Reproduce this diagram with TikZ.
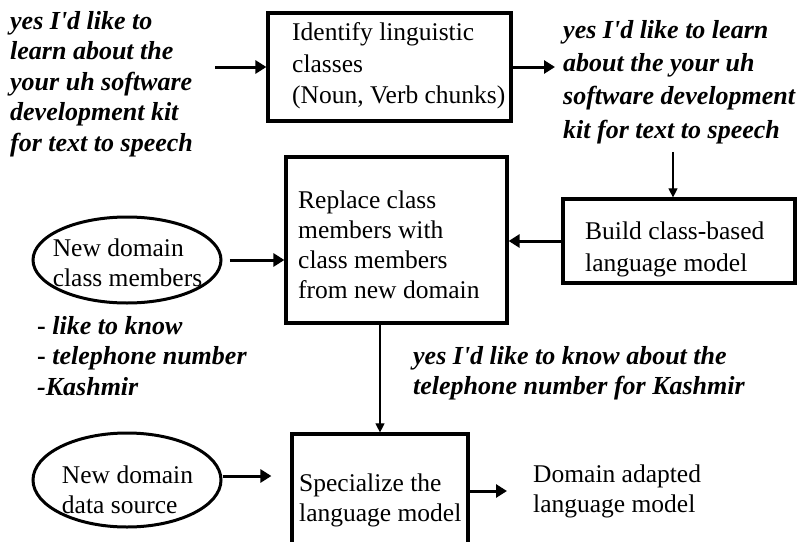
\documentclass[tikz,border=0pt]{standalone}
\usepackage{fontspec}
\setmainfont{Liberation Serif}[Ligatures=TeXOff]
\usetikzlibrary{arrows.meta,shapes.geometric,calc}

\tikzset{
  box/.style={draw, line width=3.2pt, rectangle, inner sep=0pt},
  oval/.style={draw, line width=3pt, ellipse, inner sep=0pt},
  plain/.style={inner sep=0pt, align=left, anchor=west,
    font=\fontsize{25.5}{30}\selectfont},
  quote/.style={plain, font=\fontsize{26}{30.5}\selectfont\bfseries\itshape},
  bigarrow/.style={line width=3pt, -{Triangle[length=11pt,width=13pt]}},
  thinarrow/.style={line width=1.1pt, -{Triangle[length=9pt,width=9pt]}},
}

\begin{document}
\begin{tikzpicture}[x=1pt, y=-1pt]
\useasboundingbox (0,0) rectangle (803,541);
\clip (0,0) rectangle (803,541);

% boxes and ovals
\node[box, minimum width=243pt, minimum height=108pt] (ident) at (389.5,67) {};
\node[box, minimum width=221pt, minimum height=166pt] (repl) at (396.5,240) {};
\node[box, minimum width=232pt, minimum height=84pt] (build) at (679,241) {};
\node[box, minimum width=176pt, minimum height=126pt] (spec) at (380,497) {};
\node[oval, minimum width=188pt, minimum height=86pt] (dom) at (127,260) {};
\node[oval, minimum width=188pt, minimum height=94pt] (src) at (127,480) {};

% texts inside the shapes
\node[plain, font=\fontsize{25.5}{31.5}\selectfont] (identtxt) at (292,66)
  {Identify linguistic\\classes\\(Noun, Verb chunks)};
\node[plain] (repltxt) at (298,245)
  {Replace class\\members with\\class members\\from new domain};
\node[plain, font=\fontsize{25.5}{32}\selectfont] (buildtxt) at (585,249)
  {Build class-based\\language model};
\node[plain] (spectxt) at (299,500) {Specialize the\\language model};
\node[plain, anchor=center] (domtxt) at (127.5,263) {New domain\\class members};
\node[plain, anchor=center] (srctxt) at (127.5,490) {New domain\\data source};
\node[plain] (adapted) at (533,491) {Domain adapted\\language model};

% example utterances
\node[quote] (utt1) at (10,84)
  {yes I'd like to\\learn about the\\your uh software\\development kit\\for text to speech};
\node[quote, font=\fontsize{26}{33.3}\selectfont\bfseries\itshape] (utt2) at (563,82)
  {yes I'd like to learn\\about the your uh\\software development\\kit for text to speech};
\node[quote, font=\fontsize{26}{30}\selectfont\bfseries\itshape] (utt3) at (413,373)
  {yes I'd like to know about the\\telephone number for Kashmir};
\node[quote] (members) at (37,356)
  {{\upshape -} like to know\\{\upshape -} telephone number\\-Kashmir};

% connectors
\draw[bigarrow] ([xshift=22pt]utt1.east |- ident.west) -- (ident.west);
\draw[bigarrow, shorten >=8pt] (ident.east) -- (ident.east -| utt2.west);
\draw[thinarrow, shorten <=8pt] ([xshift=-6pt]build.north |- utt2.south) -- ([xshift=-6pt]build.north);
\draw[bigarrow] (build.west) -- (build.west -| repl.east);
\draw[bigarrow, shorten <=7pt] (dom.east) -- (dom.east -| repl.west);
\draw[thinarrow] (repl.south -| spec.north) -- (spec.north);
\draw[bigarrow, shorten >=19pt] ([yshift=4pt]src.east) -- ([yshift=4pt]src.east -| spec.west);
\draw[bigarrow, shorten >=26pt] (spec.east |- adapted.west) -- (adapted.west);
\end{tikzpicture}
\end{document}
